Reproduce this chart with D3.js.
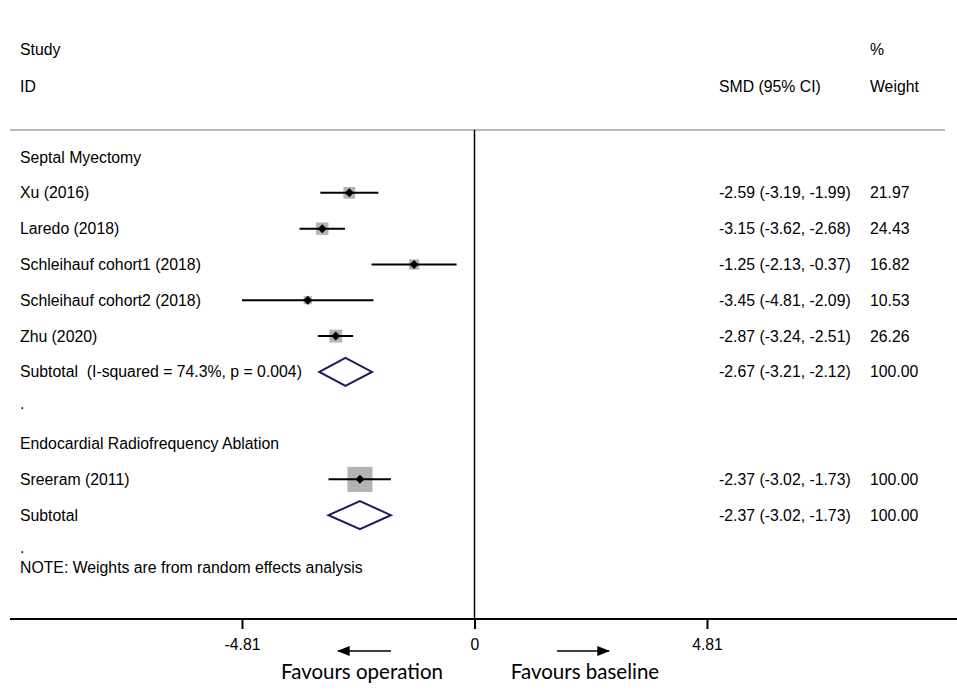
<!doctype html>
<html lang="en">
<head>
    <meta charset="UTF-8">
    <title>Forest plot - SMD</title>
    <script src="https://cdn.jsdelivr.net/npm/d3@7"></script>
    <style>
        body {
            margin: 0;
            background-color: #ffffff;
        }
        svg text {
            font-family: "Liberation Sans", Arial, sans-serif;
            font-size: 15.8px;
            fill: #000;
            white-space: pre;
        }
        .favours {
            font-family: Lato, "Open Sans", sans-serif !important;
            font-size: 20.5px !important;
        }
    </style>
</head>
<body>
<div id="chart"></div>
<script>
// Study level results
const studies = ["Xu (2016)", "Laredo (2018)", "Schleihauf cohort1 (2018)", "Schleihauf cohort2 (2018)", "Zhu (2020)", "Sreeram (2011)"];
const studySmd = [-2.59, -3.15, -1.25, -3.45, -2.87, -2.37];
const studyLower = [-3.19, -3.62, -2.13, -4.81, -3.24, -3.02];
const studyUpper = [-1.99, -2.68, -0.37, -2.09, -2.51, -1.73];
const studyWeight = [21.97, 24.43, 16.82, 10.53, 26.26, 100.00];
const studyGroup = [0, 0, 0, 0, 0, 1];

// Subgroups and their pooled estimates
const groups = ["Septal Myectomy", "Endocardial Radiofrequency Ablation"];
const subtotalLabels = ["Subtotal  (I-squared = 74.3%, p = 0.004)", "Subtotal"];
const subtotalSmd = [-2.67, -2.37];
const subtotalLower = [-3.21, -3.02];
const subtotalUpper = [-2.12, -1.73];
const subtotalWeight = [100.00, 100.00];

const xTicks = [-4.81, 0, 4.81];
const note = "NOTE: Weights are from random effects analysis";

const width = 957, height = 696;
// plain hyphen minus, like the original output
const fmt = function (v) { return v.toFixed(2); };

const svg = d3.select("#chart").append("svg")
    .attr("width", width)
    .attr("height", height);

// build the rows top to bottom
const rows = [];
groups.forEach(function (g, gi) {
    rows.push({ type: "header", label: g });
    studies.forEach(function (s, i) {
        if (studyGroup[i] !== gi) return;
        rows.push({ type: "study", label: s, est: studySmd[i], lo: studyLower[i], hi: studyUpper[i], w: studyWeight[i] });
    });
    rows.push({ type: "subtotal", label: subtotalLabels[gi], est: subtotalSmd[gi], lo: subtotalLower[gi], hi: subtotalUpper[gi], w: subtotalWeight[gi] });
    rows.push({ type: "dot", label: "." });
});

const x = d3.scaleLinear().domain([-4.81, 4.81]).range([242, 707]);
const y = d3.scaleLinear().domain([0, rows.length - 1]).range([157, 551]);

// column headers
svg.append("text").attr("x", 20).attr("y", 49).attr("dy", "0.35em").text("Study");
svg.append("text").attr("x", 20).attr("y", 86).attr("dy", "0.35em").text("ID");
svg.append("text").attr("x", 719).attr("y", 86).attr("dy", "0.35em").text("SMD (95% CI)");
svg.append("text").attr("x", 870).attr("y", 49).attr("dy", "0.35em").text("%");
svg.append("text").attr("x", 870).attr("y", 86).attr("dy", "0.35em").text("Weight");

svg.append("line")
    .attr("x1", 10).attr("x2", 945)
    .attr("y1", 130).attr("y2", 130)
    .attr("stroke", "#b8b8b8").attr("stroke-width", 2);

// null effect line
svg.append("line")
    .attr("x1", x(0)).attr("x2", x(0))
    .attr("y1", 130).attr("y2", 619)
    .attr("stroke", "#000").attr("stroke-width", 1.5);

const row = svg.selectAll(".row")
    .data(rows)
    .enter()
    .append("g")
    .attr("class", "row")
    .attr("transform", function (d, i) { return "translate(0," + y(i) + ")"; });

row.append("text")
    .attr("x", 20)
    .attr("dy", function (d) { return d.type === "dot" ? "0.1em" : "0.35em"; })
    .text(function (d) { return d.label; });

const withCi = row.filter(function (d) { return d.type === "study" || d.type === "subtotal"; });

withCi.append("text")
    .attr("x", 719).attr("dy", "0.35em")
    .text(function (d) { return fmt(d.est) + " (" + fmt(d.lo) + ", " + fmt(d.hi) + ")"; });
withCi.append("text")
    .attr("x", 870).attr("dy", "0.35em")
    .text(function (d) { return fmt(d.w); });

const st = row.filter(function (d) { return d.type === "study"; });

// weight boxes, area proportional to weight
st.append("rect")
    .attr("x", function (d) { return x(d.est) - 1.25 * Math.sqrt(d.w); })
    .attr("y", function (d) { return -1.25 * Math.sqrt(d.w); })
    .attr("width", function (d) { return 2.5 * Math.sqrt(d.w); })
    .attr("height", function (d) { return 2.5 * Math.sqrt(d.w); })
    .attr("fill", "#b3b3b3");

st.append("line")
    .attr("x1", function (d) { return x(d.lo); })
    .attr("x2", function (d) { return x(d.hi); })
    .attr("stroke", "#000").attr("stroke-width", 2);

st.append("path")
    .attr("d", function (d) {
        const cx = x(d.est), r = 4.5;
        return "M" + (cx - r) + ",0L" + cx + "," + (-r) + "L" + (cx + r) + ",0L" + cx + "," + r + "Z";
    })
    .attr("fill", "#000");

// pooled diamonds
row.filter(function (d) { return d.type === "subtotal"; })
    .append("path")
    .attr("d", function (d) {
        const h = 14;
        return "M" + x(d.lo) + ",0L" + x(d.est) + "," + (-h) + "L" + x(d.hi) + ",0L" + x(d.est) + "," + h + "Z";
    })
    .attr("fill", "#fff")
    .attr("stroke", "#1c1c5c")
    .attr("stroke-width", 2);

svg.append("text").attr("x", 20).attr("y", 567).attr("dy", "0.35em").text(note);

// x axis
svg.append("line")
    .attr("x1", 10).attr("x2", width)
    .attr("y1", 619).attr("y2", 619)
    .attr("stroke", "#000").attr("stroke-width", 2);

const axis = svg.append("g")
    .attr("transform", "translate(0,619)")
    .call(d3.axisBottom(x).tickValues(xTicks).tickFormat(function (d) { return d === 0 ? "0" : fmt(d); }).tickSize(10).tickPadding(10));
axis.select(".domain").remove();
axis.selectAll(".tick line").attr("stroke", "#000").attr("stroke-width", 2);
axis.selectAll(".tick text").style("font-family", "'Liberation Sans', Arial, sans-serif").style("font-size", "15.8px");

// direction arrows and labels
const defs = svg.append("defs");
defs.append("marker")
    .attr("id", "arrow")
    .attr("viewBox", "0 0 10 10")
    .attr("refX", 9).attr("refY", 5)
    .attr("markerWidth", 13).attr("markerHeight", 10)
    .attr("markerUnits", "userSpaceOnUse")
    .attr("orient", "auto")
    .attr("preserveAspectRatio", "none")
    .append("path")
    .attr("d", "M0,0L10,5L0,10Z")
    .attr("fill", "#000");

svg.append("line")
    .attr("x1", 391).attr("x2", 338)
    .attr("y1", 651).attr("y2", 651)
    .attr("stroke", "#000").attr("stroke-width", 1.7)
    .attr("marker-end", "url(#arrow)");
svg.append("line")
    .attr("x1", 557).attr("x2", 609)
    .attr("y1", 651).attr("y2", 651)
    .attr("stroke", "#000").attr("stroke-width", 1.7)
    .attr("marker-end", "url(#arrow)");

svg.append("text").attr("class", "favours")
    .attr("x", 362).attr("y", 679).attr("text-anchor", "middle")
    .text("Favours operation");
svg.append("text").attr("class", "favours")
    .attr("x", 585).attr("y", 679).attr("text-anchor", "middle")
    .text("Favours baseline");
</script>
</body>
</html>
